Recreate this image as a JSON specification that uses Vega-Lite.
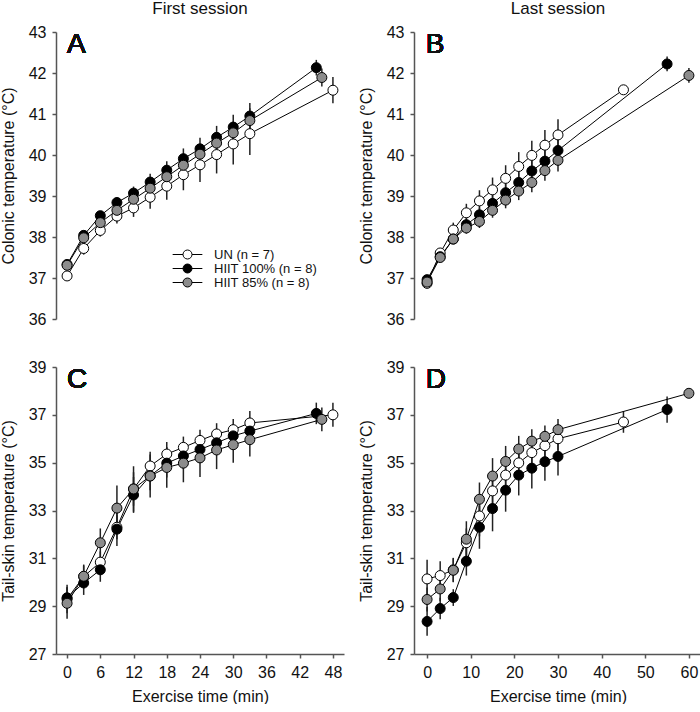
{
  "$schema": "https://vega.github.io/schema/vega-lite/v6.json",
  "autosize": {"type": "pad"},
  "padding": {"left": 0, "top": 0, "right": 0, "bottom": 0},
  "background": "white",
  "config": {
    "font": "Liberation Sans",
    "view": {"stroke": null},
    "axis": {"labelFontSize": 16, "titleFontSize": 16, "titleFontWeight": "normal", "labelColor": "#111", "titleColor": "#111", "domainColor": "#555", "tickColor": "#555", "domainWidth": 1.5, "tickWidth": 1.5, "tickSize": 4, "grid": false, "labelPadding": 6, "titlePadding": 12, "labelOverlap": false},
    "title": {"fontSize": 17, "fontWeight": "normal", "offset": 6, "color": "#111", "anchor": "middle", "font": "Liberation Sans"}
  },
  "datasets": {
    "A": [
      {"g": "UN (n = 7)", "t": 0, "v": 37.05, "se": 0.10},
      {"g": "UN (n = 7)", "t": 3, "v": 37.72, "se": 0.15},
      {"g": "UN (n = 7)", "t": 6, "v": 38.16, "se": 0.15},
      {"g": "UN (n = 7)", "t": 9, "v": 38.51, "se": 0.18},
      {"g": "UN (n = 7)", "t": 12, "v": 38.71, "se": 0.22},
      {"g": "UN (n = 7)", "t": 15, "v": 38.97, "se": 0.28},
      {"g": "UN (n = 7)", "t": 18, "v": 39.24, "se": 0.33},
      {"g": "UN (n = 7)", "t": 21, "v": 39.52, "se": 0.38},
      {"g": "UN (n = 7)", "t": 24, "v": 39.76, "se": 0.42},
      {"g": "UN (n = 7)", "t": 27, "v": 40.01, "se": 0.46},
      {"g": "UN (n = 7)", "t": 30, "v": 40.27, "se": 0.50},
      {"g": "UN (n = 7)", "t": 33, "v": 40.52, "se": 0.52},
      {"g": "UN (n = 7)", "t": 48, "v": 41.58, "se": 0.32},
      {"g": "HIIT 100% (n = 8)", "t": 0, "v": 37.33, "se": 0.06},
      {"g": "HIIT 100% (n = 8)", "t": 3, "v": 38.04, "se": 0.08},
      {"g": "HIIT 100% (n = 8)", "t": 6, "v": 38.52, "se": 0.10},
      {"g": "HIIT 100% (n = 8)", "t": 9, "v": 38.84, "se": 0.13},
      {"g": "HIIT 100% (n = 8)", "t": 12, "v": 39.07, "se": 0.16},
      {"g": "HIIT 100% (n = 8)", "t": 15, "v": 39.34, "se": 0.20},
      {"g": "HIIT 100% (n = 8)", "t": 18, "v": 39.63, "se": 0.22},
      {"g": "HIIT 100% (n = 8)", "t": 21, "v": 39.91, "se": 0.25},
      {"g": "HIIT 100% (n = 8)", "t": 24, "v": 40.15, "se": 0.27},
      {"g": "HIIT 100% (n = 8)", "t": 27, "v": 40.43, "se": 0.28},
      {"g": "HIIT 100% (n = 8)", "t": 30, "v": 40.68, "se": 0.30},
      {"g": "HIIT 100% (n = 8)", "t": 33, "v": 40.95, "se": 0.32},
      {"g": "HIIT 100% (n = 8)", "t": 45, "v": 42.13, "se": 0.19},
      {"g": "HIIT 85% (n = 8)", "t": 0, "v": 37.31, "se": 0.08},
      {"g": "HIIT 85% (n = 8)", "t": 3, "v": 37.98, "se": 0.10},
      {"g": "HIIT 85% (n = 8)", "t": 6, "v": 38.35, "se": 0.12},
      {"g": "HIIT 85% (n = 8)", "t": 9, "v": 38.65, "se": 0.14},
      {"g": "HIIT 85% (n = 8)", "t": 12, "v": 38.92, "se": 0.15},
      {"g": "HIIT 85% (n = 8)", "t": 15, "v": 39.19, "se": 0.18},
      {"g": "HIIT 85% (n = 8)", "t": 18, "v": 39.47, "se": 0.20},
      {"g": "HIIT 85% (n = 8)", "t": 21, "v": 39.75, "se": 0.22},
      {"g": "HIIT 85% (n = 8)", "t": 24, "v": 40.02, "se": 0.25},
      {"g": "HIIT 85% (n = 8)", "t": 27, "v": 40.29, "se": 0.26},
      {"g": "HIIT 85% (n = 8)", "t": 30, "v": 40.54, "se": 0.28},
      {"g": "HIIT 85% (n = 8)", "t": 33, "v": 40.84, "se": 0.30},
      {"g": "HIIT 85% (n = 8)", "t": 46, "v": 41.89, "se": 0.22}
    ],
    "B": [
      {"g": "UN (n = 7)", "t": 0, "v": 36.87, "se": 0.12},
      {"g": "UN (n = 7)", "t": 3, "v": 37.61, "se": 0.10},
      {"g": "UN (n = 7)", "t": 6, "v": 38.17, "se": 0.18},
      {"g": "UN (n = 7)", "t": 9, "v": 38.59, "se": 0.22},
      {"g": "UN (n = 7)", "t": 12, "v": 38.88, "se": 0.26},
      {"g": "UN (n = 7)", "t": 15, "v": 39.15, "se": 0.30},
      {"g": "UN (n = 7)", "t": 18, "v": 39.43, "se": 0.32},
      {"g": "UN (n = 7)", "t": 21, "v": 39.72, "se": 0.35},
      {"g": "UN (n = 7)", "t": 24, "v": 39.99, "se": 0.36},
      {"g": "UN (n = 7)", "t": 27, "v": 40.24, "se": 0.37},
      {"g": "UN (n = 7)", "t": 30, "v": 40.49, "se": 0.38},
      {"g": "UN (n = 7)", "t": 45, "v": 41.59, "se": 0.10},
      {"g": "HIIT 100% (n = 8)", "t": 0, "v": 36.96, "se": 0.08},
      {"g": "HIIT 100% (n = 8)", "t": 3, "v": 37.52, "se": 0.10},
      {"g": "HIIT 100% (n = 8)", "t": 6, "v": 37.95, "se": 0.12},
      {"g": "HIIT 100% (n = 8)", "t": 9, "v": 38.30, "se": 0.15},
      {"g": "HIIT 100% (n = 8)", "t": 12, "v": 38.54, "se": 0.18},
      {"g": "HIIT 100% (n = 8)", "t": 15, "v": 38.82, "se": 0.20},
      {"g": "HIIT 100% (n = 8)", "t": 18, "v": 39.08, "se": 0.22},
      {"g": "HIIT 100% (n = 8)", "t": 21, "v": 39.33, "se": 0.25},
      {"g": "HIIT 100% (n = 8)", "t": 24, "v": 39.61, "se": 0.27},
      {"g": "HIIT 100% (n = 8)", "t": 27, "v": 39.85, "se": 0.28},
      {"g": "HIIT 100% (n = 8)", "t": 30, "v": 40.11, "se": 0.30},
      {"g": "HIIT 100% (n = 8)", "t": 55, "v": 42.22, "se": 0.18},
      {"g": "HIIT 85% (n = 8)", "t": 0, "v": 36.90, "se": 0.08},
      {"g": "HIIT 85% (n = 8)", "t": 3, "v": 37.50, "se": 0.10},
      {"g": "HIIT 85% (n = 8)", "t": 6, "v": 37.95, "se": 0.12},
      {"g": "HIIT 85% (n = 8)", "t": 9, "v": 38.22, "se": 0.14},
      {"g": "HIIT 85% (n = 8)", "t": 12, "v": 38.38, "se": 0.16},
      {"g": "HIIT 85% (n = 8)", "t": 15, "v": 38.65, "se": 0.18},
      {"g": "HIIT 85% (n = 8)", "t": 18, "v": 38.90, "se": 0.20},
      {"g": "HIIT 85% (n = 8)", "t": 21, "v": 39.12, "se": 0.22},
      {"g": "HIIT 85% (n = 8)", "t": 24, "v": 39.33, "se": 0.24},
      {"g": "HIIT 85% (n = 8)", "t": 27, "v": 39.62, "se": 0.25},
      {"g": "HIIT 85% (n = 8)", "t": 30, "v": 39.87, "se": 0.27},
      {"g": "HIIT 85% (n = 8)", "t": 60, "v": 41.94, "se": 0.18}
    ],
    "C": [
      {"g": "UN (n = 7)", "t": 0, "v": 29.30, "se": 0.60},
      {"g": "UN (n = 7)", "t": 3, "v": 30.24, "se": 0.50},
      {"g": "UN (n = 7)", "t": 6, "v": 30.84, "se": 0.45},
      {"g": "UN (n = 7)", "t": 9, "v": 32.30, "se": 0.50},
      {"g": "UN (n = 7)", "t": 12, "v": 33.90, "se": 0.95},
      {"g": "UN (n = 7)", "t": 15, "v": 34.86, "se": 0.60},
      {"g": "UN (n = 7)", "t": 18, "v": 35.36, "se": 0.50},
      {"g": "UN (n = 7)", "t": 21, "v": 35.64, "se": 0.45},
      {"g": "UN (n = 7)", "t": 24, "v": 35.93, "se": 0.45},
      {"g": "UN (n = 7)", "t": 27, "v": 36.20, "se": 0.45},
      {"g": "UN (n = 7)", "t": 30, "v": 36.38, "se": 0.45},
      {"g": "UN (n = 7)", "t": 33, "v": 36.66, "se": 0.50},
      {"g": "UN (n = 7)", "t": 48, "v": 37.00, "se": 0.50},
      {"g": "HIIT 100% (n = 8)", "t": 0, "v": 29.35, "se": 0.45},
      {"g": "HIIT 100% (n = 8)", "t": 3, "v": 29.97, "se": 0.50},
      {"g": "HIIT 100% (n = 8)", "t": 6, "v": 30.52, "se": 0.50},
      {"g": "HIIT 100% (n = 8)", "t": 9, "v": 32.22, "se": 0.70},
      {"g": "HIIT 100% (n = 8)", "t": 12, "v": 33.65, "se": 0.75},
      {"g": "HIIT 100% (n = 8)", "t": 15, "v": 34.45, "se": 0.60},
      {"g": "HIIT 100% (n = 8)", "t": 18, "v": 34.98, "se": 0.60},
      {"g": "HIIT 100% (n = 8)", "t": 21, "v": 35.28, "se": 0.55},
      {"g": "HIIT 100% (n = 8)", "t": 24, "v": 35.55, "se": 0.55},
      {"g": "HIIT 100% (n = 8)", "t": 27, "v": 35.83, "se": 0.50},
      {"g": "HIIT 100% (n = 8)", "t": 30, "v": 36.12, "se": 0.50},
      {"g": "HIIT 100% (n = 8)", "t": 33, "v": 36.32, "se": 0.50},
      {"g": "HIIT 100% (n = 8)", "t": 45, "v": 37.06, "se": 0.45},
      {"g": "HIIT 85% (n = 8)", "t": 0, "v": 29.12, "se": 0.65},
      {"g": "HIIT 85% (n = 8)", "t": 3, "v": 30.25, "se": 0.45},
      {"g": "HIIT 85% (n = 8)", "t": 6, "v": 31.65, "se": 0.60},
      {"g": "HIIT 85% (n = 8)", "t": 9, "v": 33.10, "se": 0.95},
      {"g": "HIIT 85% (n = 8)", "t": 12, "v": 33.90, "se": 0.70},
      {"g": "HIIT 85% (n = 8)", "t": 15, "v": 34.44, "se": 0.90},
      {"g": "HIIT 85% (n = 8)", "t": 18, "v": 34.80, "se": 0.85},
      {"g": "HIIT 85% (n = 8)", "t": 21, "v": 34.98, "se": 0.80},
      {"g": "HIIT 85% (n = 8)", "t": 24, "v": 35.20, "se": 0.80},
      {"g": "HIIT 85% (n = 8)", "t": 27, "v": 35.53, "se": 0.80},
      {"g": "HIIT 85% (n = 8)", "t": 30, "v": 35.75, "se": 0.75},
      {"g": "HIIT 85% (n = 8)", "t": 33, "v": 35.96, "se": 0.70},
      {"g": "HIIT 85% (n = 8)", "t": 46, "v": 36.81, "se": 0.50}
    ],
    "D": [
      {"g": "UN (n = 7)", "t": 0, "v": 30.14, "se": 0.80},
      {"g": "UN (n = 7)", "t": 3, "v": 30.28, "se": 0.60},
      {"g": "UN (n = 7)", "t": 6, "v": 30.52, "se": 0.50},
      {"g": "UN (n = 7)", "t": 9, "v": 31.65, "se": 0.60},
      {"g": "UN (n = 7)", "t": 12, "v": 32.77, "se": 0.85},
      {"g": "UN (n = 7)", "t": 15, "v": 33.82, "se": 0.80},
      {"g": "UN (n = 7)", "t": 18, "v": 34.48, "se": 0.75},
      {"g": "UN (n = 7)", "t": 21, "v": 34.99, "se": 0.65},
      {"g": "UN (n = 7)", "t": 24, "v": 35.42, "se": 0.60},
      {"g": "UN (n = 7)", "t": 27, "v": 35.71, "se": 0.55},
      {"g": "UN (n = 7)", "t": 30, "v": 36.00, "se": 0.50},
      {"g": "UN (n = 7)", "t": 45, "v": 36.70, "se": 0.45},
      {"g": "HIIT 100% (n = 8)", "t": 0, "v": 28.36, "se": 0.60},
      {"g": "HIIT 100% (n = 8)", "t": 3, "v": 28.90, "se": 0.45},
      {"g": "HIIT 100% (n = 8)", "t": 6, "v": 29.36, "se": 0.35},
      {"g": "HIIT 100% (n = 8)", "t": 9, "v": 30.88, "se": 0.60},
      {"g": "HIIT 100% (n = 8)", "t": 12, "v": 32.30, "se": 0.90},
      {"g": "HIIT 100% (n = 8)", "t": 15, "v": 33.08, "se": 0.95},
      {"g": "HIIT 100% (n = 8)", "t": 18, "v": 33.85, "se": 0.90},
      {"g": "HIIT 100% (n = 8)", "t": 21, "v": 34.48, "se": 0.85},
      {"g": "HIIT 100% (n = 8)", "t": 24, "v": 34.77, "se": 0.85},
      {"g": "HIIT 100% (n = 8)", "t": 27, "v": 35.04, "se": 0.80},
      {"g": "HIIT 100% (n = 8)", "t": 30, "v": 35.26, "se": 0.80},
      {"g": "HIIT 100% (n = 8)", "t": 55, "v": 37.22, "se": 0.55},
      {"g": "HIIT 85% (n = 8)", "t": 0, "v": 29.28, "se": 0.50},
      {"g": "HIIT 85% (n = 8)", "t": 3, "v": 29.72, "se": 0.50},
      {"g": "HIIT 85% (n = 8)", "t": 6, "v": 30.50, "se": 0.50},
      {"g": "HIIT 85% (n = 8)", "t": 9, "v": 31.80, "se": 0.75},
      {"g": "HIIT 85% (n = 8)", "t": 12, "v": 33.47, "se": 0.70},
      {"g": "HIIT 85% (n = 8)", "t": 15, "v": 34.44, "se": 0.75},
      {"g": "HIIT 85% (n = 8)", "t": 18, "v": 35.05, "se": 0.65},
      {"g": "HIIT 85% (n = 8)", "t": 21, "v": 35.57, "se": 0.55},
      {"g": "HIIT 85% (n = 8)", "t": 24, "v": 35.90, "se": 0.50},
      {"g": "HIIT 85% (n = 8)", "t": 27, "v": 36.10, "se": 0.45},
      {"g": "HIIT 85% (n = 8)", "t": 30, "v": 36.38, "se": 0.45},
      {"g": "HIIT 85% (n = 8)", "t": 60, "v": 37.90, "se": 0.15}
    ]
  },
  "columns": 2,
  "bounds": "flush",
  "spacing": {"row": 48, "column": 70},
  "resolve": {"scale": {"fill": "independent"}},
  "concat": [
    {
      "width": 288, "height": 287,
      "title": {"text": "First session"},
      "data": {"name": "A"},
      "encoding": {
        "x": {"field": "t", "type": "quantitative", "scale": {"domain": [-2, 50], "nice": false, "zero": false}, "axis": null},
        "y": {"field": "v", "type": "quantitative", "scale": {"domain": [36, 43], "nice": false, "zero": false}, "axis": {"title": "Colonic temperature (°C)", "values": [36, 37, 38, 39, 40, 41, 42, 43]}}
      },
      "layer": [
        {"mark": {"type": "errorbar", "color": "#222", "thickness": 1.5}, "encoding": {"yError": {"field": "se"}}},
        {"mark": {"type": "line", "color": "black", "strokeWidth": 1}, "encoding": {"detail": {"field": "g"}, "order": {"field": "t"}}},
        {"mark": {"type": "point", "shape": "circle", "filled": true, "size": 100, "stroke": "black", "strokeWidth": 1, "opacity": 1},
         "encoding": {"fill": {"field": "g", "type": "nominal", "scale": {"domain": ["UN (n = 7)", "HIIT 100% (n = 8)", "HIIT 85% (n = 8)"], "range": ["white", "black", "#8c8c8c"]},
           "legend": {"orient": "none", "legendX": 125, "legendY": 216, "title": null, "symbolType": "M-3.3,0L-1,0M1,0L3.3,0M-1,0A1,1,0,1,1,1,0A1,1,0,1,1,-1,0Z", "symbolSize": 81, "symbolStrokeColor": "black", "symbolStrokeWidth": 1, "symbolOpacity": 1, "labelFontSize": 13, "labelOffset": 20, "rowPadding": 0, "labelColor": "#111", "labelFont": "Liberation Sans", "padding": 0}}}},
        {"mark": {"type": "text", "text": "A", "fontSize": 28, "align": "left", "baseline": "alphabetic", "color": "#111"}, "encoding": {"x": {"datum": 0, "type": "quantitative"}, "y": {"datum": 42.48, "type": "quantitative"}}}
      ]
    },
    {
      "width": 288, "height": 287,
      "title": {"text": "Last session"},
      "data": {"name": "B"},
      "encoding": {
        "x": {"field": "t", "type": "quantitative", "scale": {"domain": [-3, 63], "nice": false, "zero": false}, "axis": null},
        "y": {"field": "v", "type": "quantitative", "scale": {"domain": [36, 43], "nice": false, "zero": false}, "axis": {"title": "Colonic temperature (°C)", "values": [36, 37, 38, 39, 40, 41, 42, 43]}}
      },
      "layer": [
        {"mark": {"type": "errorbar", "color": "#222", "thickness": 1.5}, "encoding": {"yError": {"field": "se"}}},
        {"mark": {"type": "line", "color": "black", "strokeWidth": 1}, "encoding": {"detail": {"field": "g"}, "order": {"field": "t"}}},
        {"mark": {"type": "point", "shape": "circle", "filled": true, "size": 100, "stroke": "black", "strokeWidth": 1, "opacity": 1},
         "encoding": {"fill": {"field": "g", "type": "nominal", "scale": {"domain": ["UN (n = 7)", "HIIT 100% (n = 8)", "HIIT 85% (n = 8)"], "range": ["white", "black", "#8c8c8c"]}, "legend": null}}},
        {"mark": {"type": "text", "text": "B", "fontSize": 28, "align": "left", "baseline": "alphabetic", "color": "#111"}, "encoding": {"x": {"datum": -0.3, "type": "quantitative"}, "y": {"datum": 42.48, "type": "quantitative"}}}
      ]
    },
    {
      "width": 288, "height": 287,
      "data": {"name": "C"},
      "encoding": {
        "x": {"field": "t", "type": "quantitative", "scale": {"domain": [-2, 50], "nice": false, "zero": false}, "axis": {"title": "Exercise time (min)", "values": [0, 6, 12, 18, 24, 30, 36, 42, 48], "titlePadding": 8}},
        "y": {"field": "v", "type": "quantitative", "scale": {"domain": [27, 39], "nice": false, "zero": false}, "axis": {"title": "Tail-skin temperature (°C)", "values": [27, 29, 31, 33, 35, 37, 39]}}
      },
      "layer": [
        {"mark": {"type": "errorbar", "color": "#222", "thickness": 1.5}, "encoding": {"yError": {"field": "se"}}},
        {"mark": {"type": "line", "color": "black", "strokeWidth": 1}, "encoding": {"detail": {"field": "g"}, "order": {"field": "t"}}},
        {"mark": {"type": "point", "shape": "circle", "filled": true, "size": 100, "stroke": "black", "strokeWidth": 1, "opacity": 1},
         "encoding": {"fill": {"field": "g", "type": "nominal", "scale": {"domain": ["UN (n = 7)", "HIIT 100% (n = 8)", "HIIT 85% (n = 8)"], "range": ["white", "black", "#8c8c8c"]}, "legend": null}}},
        {"mark": {"type": "text", "text": "C", "fontSize": 28, "align": "left", "baseline": "alphabetic", "color": "#111"}, "encoding": {"x": {"datum": 0, "type": "quantitative"}, "y": {"datum": 38.12, "type": "quantitative"}}}
      ]
    },
    {
      "width": 288, "height": 287,
      "data": {"name": "D"},
      "encoding": {
        "x": {"field": "t", "type": "quantitative", "scale": {"domain": [-3, 63], "nice": false, "zero": false}, "axis": {"title": "Exercise time (min)", "values": [0, 10, 20, 30, 40, 50, 60], "titlePadding": 8}},
        "y": {"field": "v", "type": "quantitative", "scale": {"domain": [27, 39], "nice": false, "zero": false}, "axis": {"title": "Tail-skin temperature (°C)", "values": [27, 29, 31, 33, 35, 37, 39]}}
      },
      "layer": [
        {"mark": {"type": "errorbar", "color": "#222", "thickness": 1.5}, "encoding": {"yError": {"field": "se"}}},
        {"mark": {"type": "line", "color": "black", "strokeWidth": 1}, "encoding": {"detail": {"field": "g"}, "order": {"field": "t"}}},
        {"mark": {"type": "point", "shape": "circle", "filled": true, "size": 100, "stroke": "black", "strokeWidth": 1, "opacity": 1},
         "encoding": {"fill": {"field": "g", "type": "nominal", "scale": {"domain": ["UN (n = 7)", "HIIT 100% (n = 8)", "HIIT 85% (n = 8)"], "range": ["white", "black", "#8c8c8c"]}, "legend": null}}},
        {"mark": {"type": "text", "text": "D", "fontSize": 28, "align": "left", "baseline": "alphabetic", "color": "#111"}, "encoding": {"x": {"datum": -0.3, "type": "quantitative"}, "y": {"datum": 38.12, "type": "quantitative"}}}
      ]
    }
  ]
}
